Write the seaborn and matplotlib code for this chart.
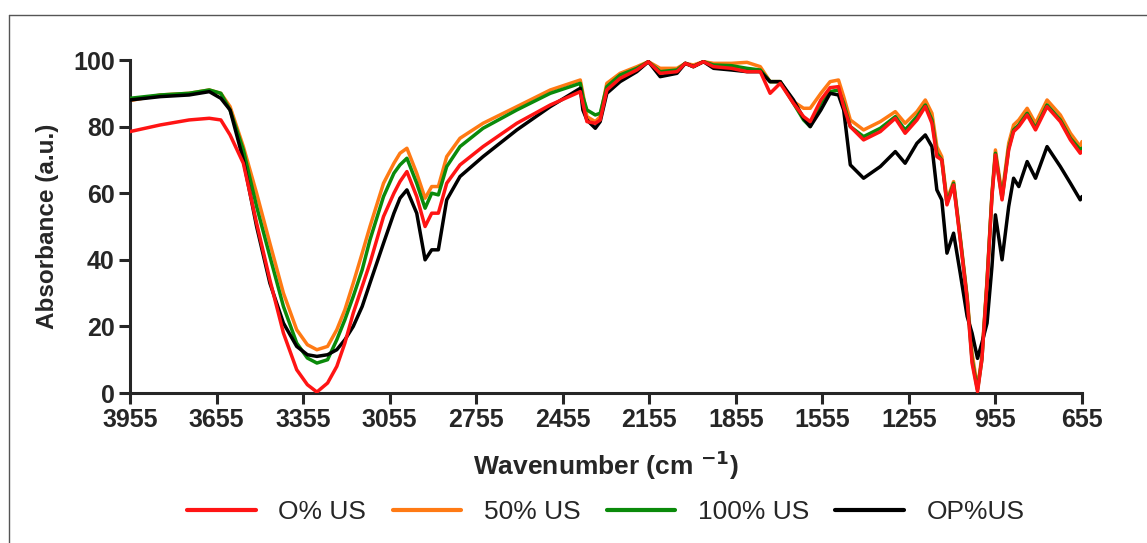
import numpy as np
import pandas as pd
import matplotlib.pyplot as plt
import seaborn as sns
from matplotlib.lines import Line2D

# wavenumber grid (cm-1)
wavenumber = [3955, 3850, 3750, 3680, 3640, 3608, 3562, 3516, 3470, 3423,
              3377, 3340, 3307, 3270, 3238, 3210, 3181, 3150, 3123, 3076,
              3040, 3019, 2995, 2961, 2932, 2909, 2886, 2857, 2811, 2731,
              2614, 2498, 2394, 2385, 2371, 2342, 2325, 2302, 2256, 2198,
              2158, 2117, 2059, 2030, 2002, 1967, 1932, 1870, 1816, 1770,
              1736, 1701, 1655, 1620, 1597, 1560, 1528, 1499, 1481, 1458,
              1412, 1354, 1302, 1268, 1227, 1198, 1175, 1158, 1141, 1123,
              1100, 1077, 1053, 1036, 1017, 1002, 984, 967, 955, 932,
              909, 892, 874, 845, 816, 776, 730, 695, 661, 655]

us_0 = [78.5, 80.5, 82, 82.5, 82, 77.5, 69, 51, 34, 18,
        7, 2.5, 0.3, 3, 8, 15, 24, 32, 39, 53,
        60, 63.5, 66.5, 59, 50, 54, 54, 63, 68.5, 74,
        81, 86.5, 90.5, 87, 81.5, 81, 82, 91, 94.5, 97,
        99.5, 96, 96.5, 99, 98, 99.5, 98, 97.5, 96.5, 96.5,
        90, 93, 87, 83, 81.5, 88, 91.7, 92, 86, 80,
        76, 78.5, 82.5, 78, 82, 86, 81, 71, 70, 56.5,
        62.5, 46, 28, 9, 0.4, 10, 33, 59, 71.5, 58,
        73, 78.5, 80, 83.5, 79, 86, 81.5, 76, 72, 72.5]

us_50 = [87.8, 89.5, 90, 91, 90, 86, 74, 60, 45, 30,
         19, 14.5, 13, 14, 19, 25, 33, 42, 50, 63,
         69, 72, 73.5, 66, 58.5, 62, 62, 71, 76.5, 81,
         86, 91, 94, 90, 83, 81.5, 83, 93, 96, 98,
         99.5, 97.5, 97.5, 99, 98.5, 99.5, 99, 99, 99.3, 98,
         93.5, 93.5, 87.5, 85.5, 85.5, 90, 93.5, 94, 89, 82,
         79, 81.5, 84.5, 81, 84.5, 88, 84, 74, 71, 58,
         63.5, 47, 29, 12, 1.5, 11, 34, 60, 73, 59.5,
         75, 80.5, 82, 85.5, 81, 88, 83.5, 78, 74, 75.5]

us_100 = [88.5, 89.5, 90, 91, 90, 85, 73, 56, 41, 26,
          15, 10.5, 9, 10, 16, 22, 29, 37, 46, 59,
          66, 68.5, 70.5, 63, 55.5, 60, 59.5, 68, 74, 79.5,
          85, 90, 93, 89, 85, 83.5, 84, 92, 95.5, 97.5,
          99.5, 96.5, 97, 99, 98, 99.5, 98.5, 98.3, 97.5, 97,
          93.5, 93.5, 87, 82, 80, 87, 90.5, 91, 87, 80,
          77, 79.5, 83, 79, 83, 86.5, 82, 72, 70, 57,
          63, 46.5, 28.5, 10, 1, 10, 33.5, 59.5, 72, 58.5,
          73.5, 79, 80.5, 84, 79.5, 86.5, 82, 76.5, 73, 73.5]

op_us = [88, 89, 89.5, 90.5, 88.5, 85, 70, 50, 33, 21,
         14, 11.5, 11, 11.5, 13, 16, 20, 26, 33, 45,
         54, 58.5, 61, 54, 40, 43, 43, 58, 65, 71,
         79, 86, 91.5, 85, 82, 79.5, 81.5, 90, 93.5, 96.5,
         99.5, 95, 96, 99, 98, 99.5, 97.5, 97, 96.5, 96.5,
         93.5, 93.5, 88, 82.5, 80, 85, 90, 89.5, 85, 68.5,
         64.5, 68, 72.5, 69, 75, 77.5, 74, 61, 58, 42,
         48, 36, 23, 18, 10.4, 15, 21, 38, 53.5, 40,
         56, 64.5, 62, 69.5, 64.5, 74, 68, 63, 58, 59]

labels = ['O% US', '50% US', '100% US', 'OP%US']
colors = ['#ff1414', '#ff7a14', '#0a8a0a', '#000000']

df = pd.DataFrame({'wavenumber': wavenumber * 4,
                   'absorbance': us_0 + us_50 + us_100 + op_us,
                   'sample': np.repeat(labels, len(wavenumber))})

sns.set_style('ticks')
plt.rcParams['font.family'] = ['Liberation Sans', 'DejaVu Sans']
plt.rcParams['mathtext.default'] = 'bf'

fig = plt.figure(figsize=(11.47, 5.43), dpi=100)
ax = fig.add_axes([0.1133, 0.2762, 0.83, 0.6133])

sns.lineplot(data=df, x='wavenumber', y='absorbance', hue='sample',
             hue_order=labels, palette=dict(zip(labels, colors)),
             estimator=None, linewidth=2.5, legend=False, ax=ax)

# draw order: orange, green, black under red
for line, z in zip(ax.lines, [5, 2, 3, 4]):
    line.set_zorder(z)

ax.set_xlim(3955, 655)
ax.set_ylim(0, 100)
ax.set_xticks(np.arange(3955, 654, -300))
ax.set_yticks(np.arange(0, 101, 20))
for s in ['top', 'right']:
    ax.spines[s].set_visible(False)
for s in ['left', 'bottom']:
    ax.spines[s].set_linewidth(2.2)
ax.tick_params(axis='both', length=8, width=2.2, labelsize=18, pad=3)
for t in ax.get_xticklabels() + ax.get_yticklabels():
    t.set_fontweight('bold')

ax.set_xlabel('Wavenumber (cm $^{-1}$)', fontsize=19, fontweight='bold', labelpad=12)
ax.set_ylabel('Absorbance (a.u.)', fontsize=17.5, fontweight='bold', labelpad=10)

handles = [Line2D([], [], color=c, lw=3) for c in colors]
ax.legend(handles, labels, loc='center', bbox_to_anchor=(0.5, -0.358), ncol=4,
          frameon=False, fontsize=19, handlelength=2.6, handletextpad=0.85,
          columnspacing=1.0)

# thin grey frame along the top and left of the figure
fig.add_artist(Line2D([0.0081, 1.0], [0.973, 0.973], color='#555555', lw=1,
                      transform=fig.transFigure))
fig.add_artist(Line2D([0.0081, 0.0081], [0.0, 0.973], color='#555555', lw=1,
                      transform=fig.transFigure))

fig.savefig('out.png', dpi=100)
